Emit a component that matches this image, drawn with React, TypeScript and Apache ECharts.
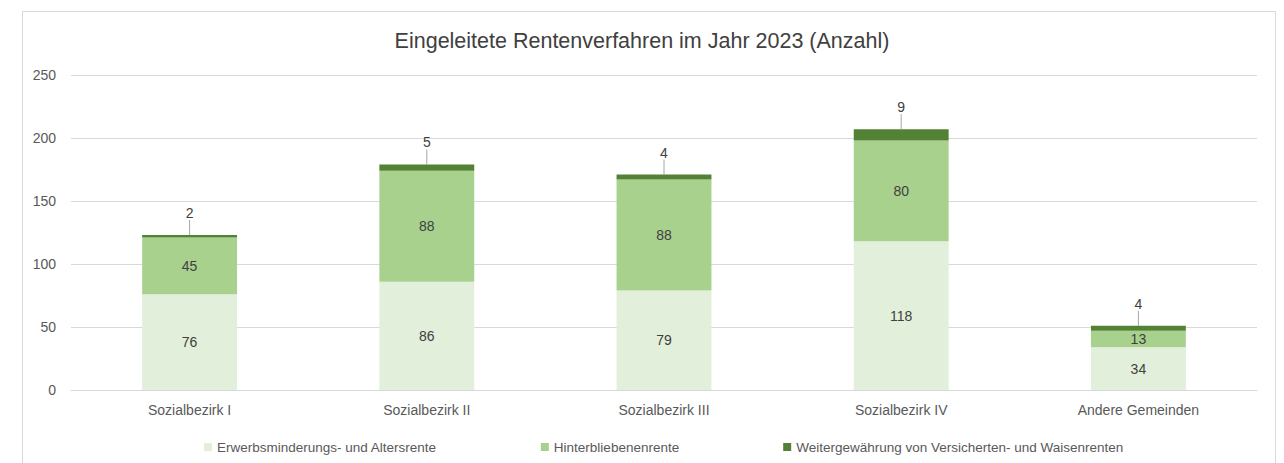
import React, { useEffect, useRef } from "react";
import * as echarts from "echarts";

const categories = ["Sozialbezirk I", "Sozialbezirk II", "Sozialbezirk III", "Sozialbezirk IV", "Andere Gemeinden"];
const seriesNames = [
  "Erwerbsminderungs- und Altersrente",
  "Hinterbliebenenrente",
  "Weitergewährung von Versicherten- und Waisenrenten",
];
const erwerbsValues = [76, 86, 79, 118, 34];
const hinterValues = [45, 88, 88, 80, 13];
const weiterValues = [2, 5, 4, 9, 4];
const colors = ["#e2efda", "#a9d18e", "#548235"];
const titleText = "Eingeleitete Rentenverfahren im Jahr 2023 (Anzahl)";

const FONT = "'Liberation Sans', Arial, sans-serif";

export default function App() {
  const ref = useRef<HTMLDivElement>(null);
  useEffect(() => {
    if (!ref.current) return;
    const chart = echarts.init(ref.current, undefined, { renderer: "svg" });
    const innerLabel = {
      show: true,
      position: "inside",
      color: "#404040",
      fontSize: 14,
      fontFamily: FONT,
    };
    chart.setOption({
      animation: false,
      backgroundColor: "#ffffff",
      textStyle: { fontFamily: FONT },
      title: {
        text: titleText,
        left: "center",
        top: 25,
        textStyle: { color: "#404040", fontSize: 21.5, fontWeight: "normal", fontFamily: FONT },
      },
      graphic: [
        {
          type: "rect",
          shape: { x: 22.5, y: 11.5, width: 1253, height: 480 },
          style: { fill: "none", stroke: "#d9d9d9", lineWidth: 1 },
          silent: true,
        },
      ],
      legend: {
        bottom: 4,
        left: 199,
        itemWidth: 8,
        itemHeight: 8,
        itemGap: 104,
        icon: "rect",
        textStyle: { color: "#595959", fontSize: 13.5, fontFamily: FONT },
        data: seriesNames,
      },
      grid: { left: 71, right: 27, top: 75, bottom: 73, containLabel: false },
      xAxis: {
        type: "category",
        data: categories,
        axisLine: { lineStyle: { color: "#d9d9d9" } },
        axisTick: { show: false },
        axisLabel: { color: "#595959", fontSize: 14, margin: 13, fontFamily: FONT },
      },
      yAxis: {
        type: "value",
        min: 0,
        max: 250,
        interval: 50,
        axisLine: { show: false },
        axisTick: { show: false },
        splitLine: { lineStyle: { color: "#d9d9d9" } },
        axisLabel: { color: "#595959", fontSize: 14, margin: 15, fontFamily: FONT },
      },
      series: [
        {
          name: seriesNames[0],
          type: "bar",
          stack: "total",
          barWidth: "40%",
          data: erwerbsValues,
          itemStyle: { color: colors[0] },
          label: innerLabel,
        },
        {
          name: seriesNames[1],
          type: "bar",
          stack: "total",
          data: hinterValues,
          itemStyle: { color: colors[1] },
          label: innerLabel,
        },
        {
          name: seriesNames[2],
          type: "bar",
          stack: "total",
          data: weiterValues,
          itemStyle: { color: colors[2] },
          label: {
            show: true,
            position: "top",
            distance: 5,
            color: "#404040",
            fontSize: 14,
            fontFamily: FONT,
          },
          labelLayout: { dy: -10 },
          labelLine: { show: true, lineStyle: { color: "#a6a6a6", width: 1 } },
        },
      ],
    });
    return () => chart.dispose();
  }, []);
  return (
    <div
      ref={ref}
      style={{ position: "absolute", left: 0, top: 0, width: 1284, height: 463 }}
    />
  );
}
